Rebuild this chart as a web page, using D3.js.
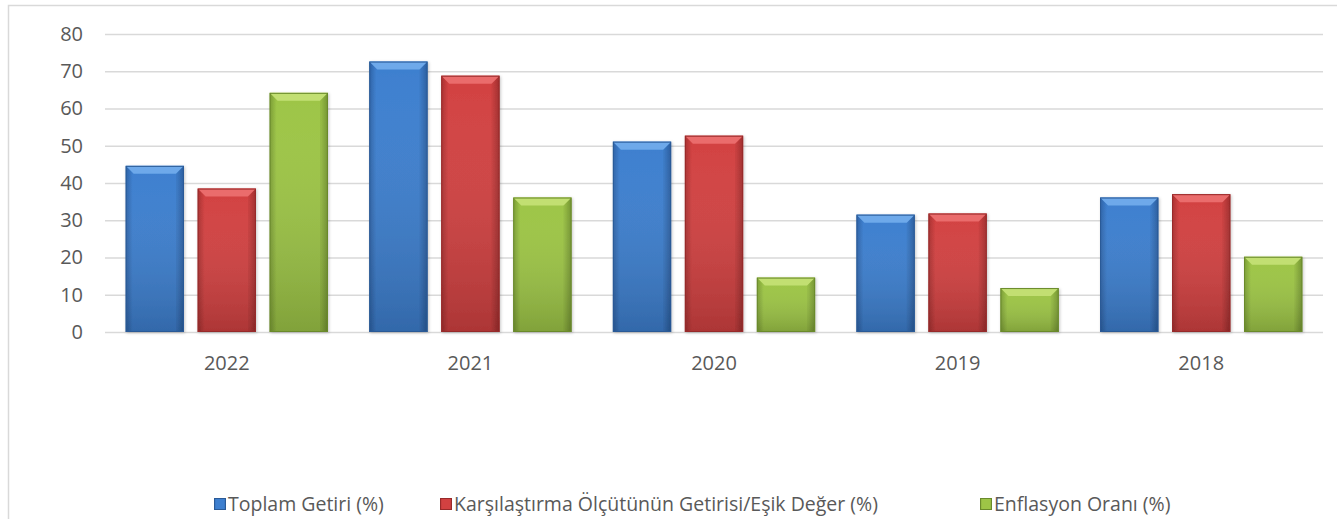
<!DOCTYPE html>
<html>
<head>
<meta charset="utf-8">
<script src="https://cdn.jsdelivr.net/npm/d3@7"></script>
<style>
  html, body { margin: 0; padding: 0; background: #fff; }
  svg { display: block; }
  text { font-family: "Open Sans", "Liberation Sans", sans-serif; fill: #595959; }
</style>
</head>
<body>
<svg id="chart" width="1337" height="519"></svg>
<script>
const categories = ["2022", "2021", "2020", "2019", "2018"];
const seriesNames = ["Toplam Getiri (%)", "Karşılaştırma Ölçütünün Getirisi/Eşik Değer (%)", "Enflasyon Oranı (%)"];
const toplamGetiri = [44.6, 72.6, 51.1, 31.5, 36.1];
const karsilastirma = [38.5, 68.8, 52.7, 31.8, 37.0];
const enflasyon = [64.2, 36.1, 14.6, 11.8, 20.2];
const yTicks = [0, 10, 20, 30, 40, 50, 60, 70, 80];

const seriesValues = [toplamGetiri, karsilastirma, enflasyon];
const palette = [
  { mid: "#3d7fcf", edge: "#2d62a6", top: "#6ea9ea", line: "#2a5a97" },
  { mid: "#d24141", edge: "#a83030", top: "#ea6c6c", line: "#972a2a" },
  { mid: "#9dc546", edge: "#7a9c34", top: "#c2df72", line: "#6a8a2c" }
];

const svg = d3.select("#chart");
const W = 1337, H = 519;
const plot = { left: 105, right: 1323, top: 34, bottom: 332 };
const FONT = "'Open Sans', 'Liberation Sans', sans-serif";

// chart frame
svg.append("rect").attr("x", 8.5).attr("y", 5.5).attr("width", W).attr("height", H)
  .attr("fill", "none").attr("stroke", "#d9d9d9").attr("stroke-width", 1.5);

const x0 = d3.scaleBand().domain(categories).range([plot.left, plot.right]).paddingInner(0).paddingOuter(0);
const x1 = d3.scaleBand().domain(d3.range(seriesNames.length)).range([0, x0.bandwidth()])
  .paddingInner(0.19).paddingOuter(0.287);
const y = d3.scaleLinear().domain([0, 80]).range([plot.bottom, plot.top]);

const defs = svg.append("defs");
palette.forEach((p, i) => {
  const g = defs.append("linearGradient").attr("id", "g" + i).attr("x1", "0").attr("x2", "1").attr("y1", "0").attr("y2", "0");
  g.append("stop").attr("offset", "0").attr("stop-color", p.edge);
  g.append("stop").attr("offset", "0.12").attr("stop-color", p.mid);
  g.append("stop").attr("offset", "0.88").attr("stop-color", p.mid);
  g.append("stop").attr("offset", "1").attr("stop-color", p.edge);
  const v = defs.append("linearGradient").attr("id", "v" + i).attr("x1", "0").attr("x2", "0").attr("y1", "0").attr("y2", "1");
  v.append("stop").attr("offset", "0").attr("stop-color", "#fff").attr("stop-opacity", 0.0);
  v.append("stop").attr("offset", "1").attr("stop-color", "#000").attr("stop-opacity", 0.18);
});
const sh = defs.append("filter").attr("id", "shadow").attr("x", "-20%").attr("y", "-20%").attr("width", "140%").attr("height", "140%");
sh.append("feDropShadow").attr("dx", 1).attr("dy", 1).attr("stdDeviation", 1.5).attr("flood-color", "#000").attr("flood-opacity", 0.22);

// gridlines + y labels
const yAxis = d3.axisLeft(y).tickValues(yTicks).tickSize(-(plot.right - plot.left)).tickPadding(22);
const ga = svg.append("g").attr("transform", `translate(${plot.left},0)`).call(yAxis);
ga.select(".domain").remove();
ga.selectAll(".tick line").attr("stroke", "#d9d9d9").attr("stroke-width", 1.5);
ga.selectAll(".tick text").attr("font-size", 20).style("fill", "#595959").style("font-family", FONT);

// x axis labels
const xAxis = d3.axisBottom(x0).tickSize(0).tickPadding(24);
const gx = svg.append("g").attr("transform", `translate(0,${plot.bottom})`).call(xAxis);
gx.select(".domain").remove();
gx.selectAll(".tick text").attr("font-size", 20).style("fill", "#595959").style("font-family", FONT);

// bars
const groups = svg.append("g").selectAll("g").data(categories).join("g")
  .attr("transform", d => `translate(${x0(d)},0)`);

groups.each(function(cat, ci) {
  const g = d3.select(this);
  seriesValues.forEach((vals, si) => {
    const bx = x1(si), bw = x1.bandwidth();
    const by = y(vals[ci]), bh = y(0) - y(vals[ci]);
    const p = palette[si];
    const bar = g.append("g").attr("filter", "url(#shadow)");
    bar.append("rect").attr("x", bx).attr("y", by).attr("width", bw).attr("height", bh)
      .attr("fill", `url(#g${si})`);
    bar.append("rect").attr("x", bx).attr("y", by).attr("width", bw).attr("height", bh)
      .attr("fill", `url(#v${si})`);
    const bev = Math.min(8, bh / 2);
    bar.append("polygon")
      .attr("points", [[bx, by], [bx + bw, by], [bx + bw - bev, by + bev], [bx + bev, by + bev]].map(p => p.join(",")).join(" "))
      .attr("fill", p.top);
    bar.append("polygon")
      .attr("points", [[bx + bw, by], [bx + bw, by + bh], [bx + bw - bev, by + bh], [bx + bw - bev, by + bev]].map(p => p.join(",")).join(" "))
      .attr("fill", "#000").attr("fill-opacity", 0.05);
    bar.append("rect").attr("x", bx + 0.5).attr("y", by + 0.5).attr("width", bw - 1).attr("height", bh - 1)
      .attr("fill", "none").attr("stroke", p.line).attr("stroke-width", 1);
  });
});

// legend
const legendY = 504;
const legendX = [214, 440, 980];
const lg = svg.append("g").selectAll("g").data(seriesNames).join("g")
  .attr("transform", (d, i) => `translate(${legendX[i]},${legendY})`);
lg.append("rect").attr("x", 0.5).attr("y", -5.5).attr("width", 11).attr("height", 11)
  .attr("fill", (d, i) => `url(#g${i})`).attr("stroke", (d, i) => palette[i].line);
lg.append("text").attr("x", 14).attr("y", 0).attr("dy", "0.35em").attr("font-size", 19.5)
  .style("font-family", FONT).text(d => d);
</script>
</body>
</html>
